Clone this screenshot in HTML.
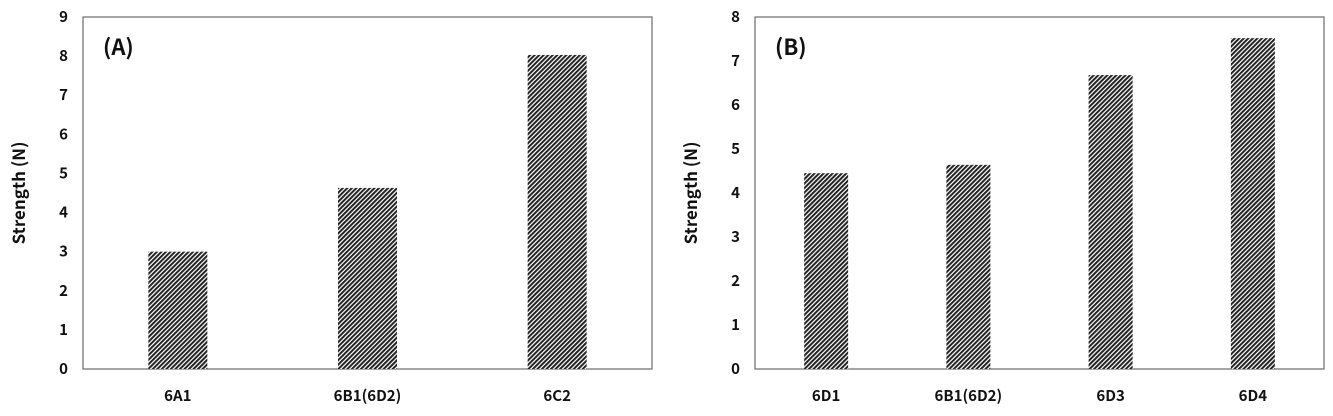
<!DOCTYPE html>
<html><head><meta charset="utf-8"><style>
html,body{margin:0;padding:0;background:#fff;}
svg{display:block;font-family:"Noto Sans CJK KR","Liberation Sans",sans-serif;}
</style></head><body>
<svg id="chart" width="1333" height="416" viewBox="0 0 1333 416">
<defs>
<pattern id="hatch" patternUnits="userSpaceOnUse" width="3.2" height="3.2" patternTransform="rotate(45)">
<rect width="3.2" height="3.2" fill="#fff"/>
<rect x="0" y="0" width="2" height="3.2" fill="#222"/>
</pattern>
</defs>
</svg>
<script>
const catsA = ["6A1","6B1(6D2)","6C2"];
const valsA = [3.0, 4.63, 8.03];
const ticksA = [0,1,2,3,4,5,6,7,8,9];
const catsB = ["6D1","6B1(6D2)","6D3","6D4"];
const valsB = [4.45, 4.64, 6.68, 7.52];
const ticksB = [0,1,2,3,4,5,6,7,8];

const svg = document.getElementById('chart');
const NS = 'http://www.w3.org/2000/svg';
function mk(tag, attrs, parent){ const e=document.createElementNS(NS,tag); for(const k in attrs) e.setAttribute(k,attrs[k]); (parent||svg).appendChild(e); return e; }

function panel(id, x0, x1, y0, y1, cats, vals, ticks, label, barW){
  const g = mk('g',{});
  
  
  const ymax = ticks[ticks.length-1];
  const yS = v => y1 - (v/ymax)*(y1-y0);
  const band = (x1-x0)/cats.length;
  const xC = i => x0 + band*(i+0.5);
  const frame = mk('rect',{x:x0,y:y0,width:x1-x0,height:y1-y0,fill:'none',stroke:'#777','stroke-width':1.3},g);
  
  
  ticks.forEach(t=>{
    const tx = mk('text',{x:x0-15,y:yS(t)+5,'text-anchor':'end','font-size':15,'font-weight':'bold',fill:'#111'},g);
    tx.textContent = t;
    
    
  });
  cats.forEach((c,i)=>{
    const b = mk('rect',{x:xC(i)-barW/2,y:yS(vals[i]),width:barW,height:y1-yS(vals[i]),fill:'url(#hatch)'},g);
    
    
    const tx = mk('text',{x:xC(i),y:y1+32,'text-anchor':'middle','font-size':15,'font-weight':'bold',fill:'#111'},g);
    tx.textContent = c;
    
    
  });
  const yt = mk('text',{x:0,y:0,transform:`translate(${x0-58},${(y0+y1)/2}) rotate(-90)`,'text-anchor':'middle','font-size':17,'font-weight':'bold',fill:'#111'},g);
  yt.textContent = 'Strength (N)';
  
  
  const pl = mk('text',{x:x0+20,y:y0+38,'font-size':22,'font-weight':'bold',fill:'#111'},g);
  pl.textContent = label;
  
  
}
panel('a', 83, 652, 17, 369, catsA, valsA, ticksA, '(A)', 59);
panel('b', 755, 1324, 17, 369, catsB, valsB, ticksB, '(B)', 44);
</script>
</body></html>
